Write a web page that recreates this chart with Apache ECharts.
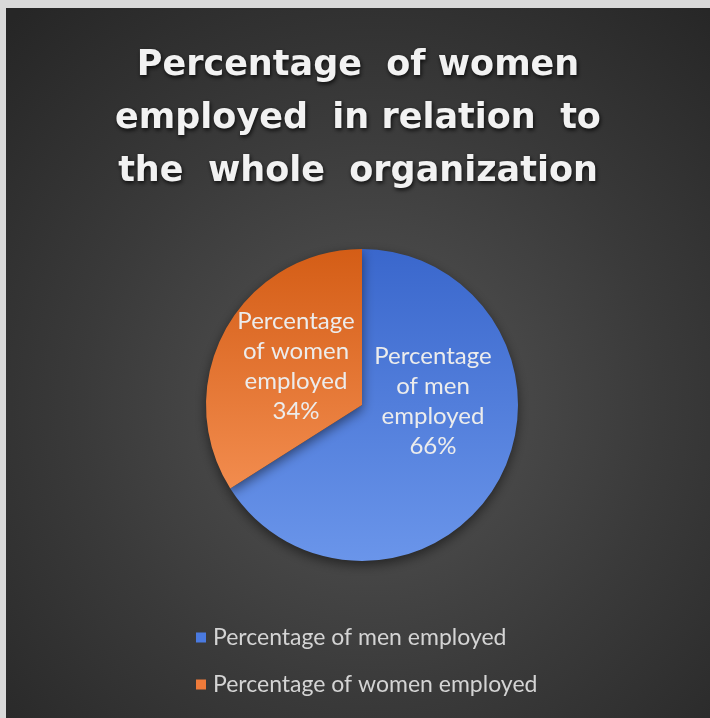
<!DOCTYPE html>
<html>
<head>
<meta charset="utf-8">
<script src="https://cdn.jsdelivr.net/npm/echarts@6/dist/echarts.min.js"></script>
<style>
html,body{margin:0;padding:0;background:#d9d9d9;width:710px;height:718px;overflow:hidden;}
#chart{position:absolute;left:6px;top:8px;width:704px;height:710px;}
</style>
</head>
<body>
<div id="chart"></div>
<script>
const titleText = 'Percentage  of women\nemployed  in relation  to\nthe  whole  organization';
const categories = ['Percentage of men employed', 'Percentage of women employed'];
const values = [66, 34];
const colors = [
  ['#3a67cc', '#6a95ea'],
  ['#d45d16', '#f28c4e']
];
const legendColors = ['#4a7ae0', '#ee7a3a'];

const chart = echarts.init(document.getElementById('chart'), null, {renderer: 'canvas'});

const data = categories.map((c, i) => ({
  name: c,
  value: values[i],
  itemStyle: {
    color: new echarts.graphic.LinearGradient(0, 0, 0, 1, [
      {offset: 0, color: colors[i][0]},
      {offset: 1, color: colors[i][1]}
    ])
  },
  label: { offset: i === 0 ? [0, -43] : [5, 0] }
}));

chart.setOption({
  backgroundColor: new echarts.graphic.RadialGradient(0.52, 0.56, 0.75, [
    {offset: 0, color: '#555555'},
    {offset: 0.55, color: '#3a3a3a'},
    {offset: 1, color: '#262626'}
  ]),
  color: [colors[0][0], colors[1][0]],
  title: {
    text: titleText,
    left: 'center',
    top: 26,
    textStyle: {
      fontFamily: 'DejaVu Sans',
      fontWeight: 'bold',
      fontSize: 35,
      lineHeight: 53,
      color: '#f2f2f2',
      textShadowColor: 'rgba(0,0,0,0.8)',
      textShadowBlur: 4,
      textShadowOffsetX: 1,
      textShadowOffsetY: 2
    }
  },
  legend: {
    orient: 'vertical',
    left: 185,
    top: 613,
    itemWidth: 10,
    itemHeight: 10,
    itemGap: 24,
    icon: 'rect',
    textStyle: {
      fontFamily: 'Lato',
      fontSize: 23,
      color: '#d4d4d4',
      padding: [0, 0, 0, 2]
    },
    data: categories.map((c, i) => ({name: c, itemStyle: {color: legendColors[i]}}))
  },
  series: [{
    type: 'pie',
    center: [356, 397],
    radius: [0, 156],
    startAngle: 90,
    clockwise: true,
    avoidLabelOverlap: false,
    itemStyle: {
      borderWidth: 0,
      shadowColor: 'rgba(0,0,0,0.5)',
      shadowBlur: 12,
      shadowOffsetY: 4
    },
    label: {
      show: true,
      position: 'inside',
      fontFamily: 'Lato',
      fontSize: 24,
      lineHeight: 30,
      color: '#ececec',
      formatter: p => p.name.replace('Percentage ', 'Percentage\n').replace(' employed', '\nemployed') + '\n' + Math.round(p.percent) + '%'
    },
    labelLine: {show: false},
    emphasis: {disabled: true},
    data: data
  }]
});
</script>
</body>
</html>
